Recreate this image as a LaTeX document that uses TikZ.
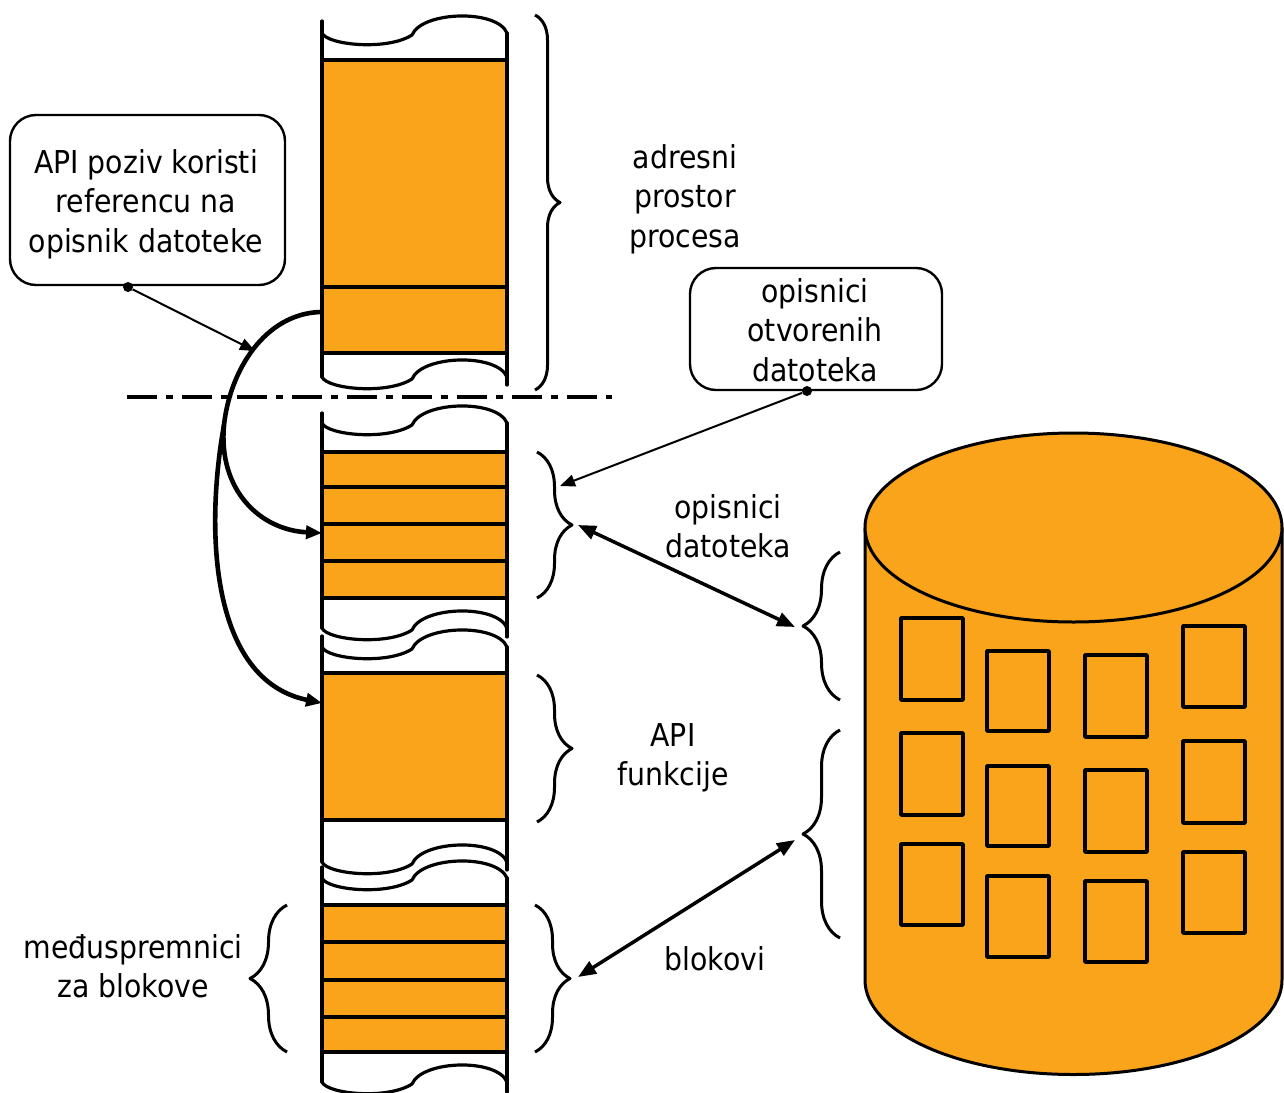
\documentclass[tikz,border=0pt]{standalone}
\usepackage{fontspec}
\setmainfont{DejaVu Sans}[FakeStretch=0.9]
\usetikzlibrary{decorations.pathreplacing,arrows.meta,calc}
\definecolor{orng}{RGB}{249,164,26}
\tikzset{
  memline/.style={line width=3.2pt, line cap=round},
  memfill/.style={line width=3.4pt, fill=orng},
  wavepic/.pic={\draw[memline] (0,0) .. controls (5,12) and (65,18) .. (90,2) .. controls (100,-22) and (175,-24) .. (185,0);},
  bracestyle/.style={decorate, decoration={brace, amplitude=#1}, line width=3pt},
  lbl/.style={font=\fontsize{31.5}{39.5}\selectfont, align=center, inner sep=0pt},
  callout/.style={draw, line width=2.4pt, rounded corners=26pt, inner sep=0pt},
  dotc/.style={circle, fill=black, inner sep=0pt, minimum size=10pt},
  thinarrow/.style={line width=2pt, -{Triangle[length=15pt,width=12pt]}},
  dblarrow/.style={line width=3.5pt, {Triangle[length=18pt,width=14pt]}-{Triangle[length=18pt,width=14pt]}},
  curvearrow/.style={line width=4.6pt, -{Triangle[length=16pt,width=13pt]}},
  sq/.style={line width=3.5pt, fill=orng}
}
\begin{document}
\begin{tikzpicture}[x=1pt, y=-1pt, line join=round]
\useasboundingbox (0,0) rectangle (1284,1092);

% ---------- memory column, segment 1 (address space)
\draw[memfill] (322,60) rectangle (507,287);
\draw[memfill] (322,287) rectangle (507,353);
\draw[memline] (322,21) -- (322,377);
\draw[memline] (507,33) -- (507,385);
\pic at (322,33) {wavepic};
\pic at (322,377) {wavepic};

% ---------- segment 2 (file descriptors)
\foreach \a/\b in {452/487,487/524,524/561,561/598}
  \draw[memfill] (322,\a) rectangle (507,\b);
\draw[memline] (322,413) -- (322,628);
\draw[memline] (507,423) -- (507,637);
\pic at (322,423) {wavepic};
\pic at (322,628) {wavepic};

% ---------- segment 3 (API functions)
\draw[memfill] (322,673) rectangle (507,820);
\draw[memline] (322,636) -- (322,862);
\draw[memline] (507,647) -- (507,870);
\pic at (322,647) {wavepic};
\pic at (322,862) {wavepic};

% ---------- segment 4 (block buffers)
\foreach \a/\b in {905/942,942/980,980/1017,1017/1052}
  \draw[memfill] (322,\a) rectangle (507,\b);
\draw[memline] (322,867) -- (322,1082);
\draw[memline] (507,878) -- (507,1092);
\pic at (322,878) {wavepic};
\pic at (322,1082) {wavepic};

% ---------- dash-dot separator
\draw[line width=4pt, dash pattern=on 30pt off 9pt on 7pt off 9pt] (127,397) -- (612,397);

% ---------- braces
\draw[bracestyle=25pt] (535,15) -- (535,390);
\draw[bracestyle=35pt] (537,452) -- (537,598);
\draw[bracestyle=35pt] (537,675) -- (537,822);
\draw[bracestyle=35pt] (535,905) -- (535,1052);
\draw[bracestyle=37pt] (287,1052) -- (287,905);
\draw[bracestyle=37pt] (840,700) -- (840,552);
\draw[bracestyle=37pt] (840,938) -- (840,730);

% ---------- cylinder (disk)
\fill[orng] (865,527.5) -- (865,980) .. controls (865,1032.2) and (958.3,1074.5) .. (1073.5,1074.5)
  .. controls (1188.7,1074.5) and (1282,1032.2) .. (1282,980) -- (1282,527.5) -- cycle;
\draw[line width=3pt] (865,527.5) -- (865,980) .. controls (865,1032.2) and (958.3,1074.5) .. (1073.5,1074.5)
  .. controls (1188.7,1074.5) and (1282,1032.2) .. (1282,980) -- (1282,527.5);
\draw[line width=3pt, fill=orng] (1073.5,527.5) ellipse [x radius=208.5, y radius=94.5];
\foreach \xa/\ya/\xb/\yb in {901/618/963/700, 987/651/1049/731, 1085/655/1147/737, 1183/626/1245/707,
  901/733/963/815, 987/766/1049/846, 1085/770/1147/852, 1183/741/1245/823,
  901/844/963/925, 987/876/1049/957, 1085/881/1147/962, 1183/852/1245/933}
  \draw[sq] (\xa,\ya) rectangle (\xb,\yb);

% ---------- labels
\node[lbl] (adr) at (685,199) {adresni\\prostor\\procesa};
\node[lbl] (opd) at (728,526) {opisnici\\datoteka};
\node[lbl] (apif) at (673,758) {API\\funkcije};
\node[lbl] (blk) at (715,959) {blokovi};
\node[lbl] (mdj) at (133,966) {međuspremnici\\za blokove};

% ---------- callouts
\node[callout, minimum width=275pt, minimum height=170pt] (c1) at (147.5,200) {};
\node[lbl] (c1t) at (146,204) {API poziv koristi\\referencu na\\opisnik datoteke};
\node[dotc] (d1) at (128,287) {};
\node[callout, minimum width=252pt, minimum height=122pt] (c2) at (816,329) {};
\node[lbl] (c2t) at (815,330) {opisnici\\otvorenih\\datoteka};
\node[dotc] (d2) at (807,391) {};

% ---------- connector coordinates
\coordinate (s1) at (320,312);
\coordinate (t2) at (322,533);
\coordinate (t3) at (322,703);
\coordinate (a1end) at (255,351);
\coordinate (a2end) at (560,486);
\coordinate (fdL) at (578,525);
\coordinate (fdR) at (795,627);
\coordinate (bkR) at (795,840);
\coordinate (bkL) at (578,977);

% ---------- curved arrows
\draw[curvearrow] (s1) .. controls (265,314) and (230,370) .. (224,425) coordinate (split)
   .. controls (218,490) and (260,530) .. (t2);
\draw[curvearrow] (split) .. controls (205,530) and (210,680) .. (t3);

% ---------- straight arrows
\draw[thinarrow] (d1) -- (a1end);
\draw[thinarrow] (d2) -- (a2end);
\draw[dblarrow] (fdL) -- (fdR);
\draw[dblarrow] (bkR) -- (bkL);
\end{tikzpicture}
\end{document}
